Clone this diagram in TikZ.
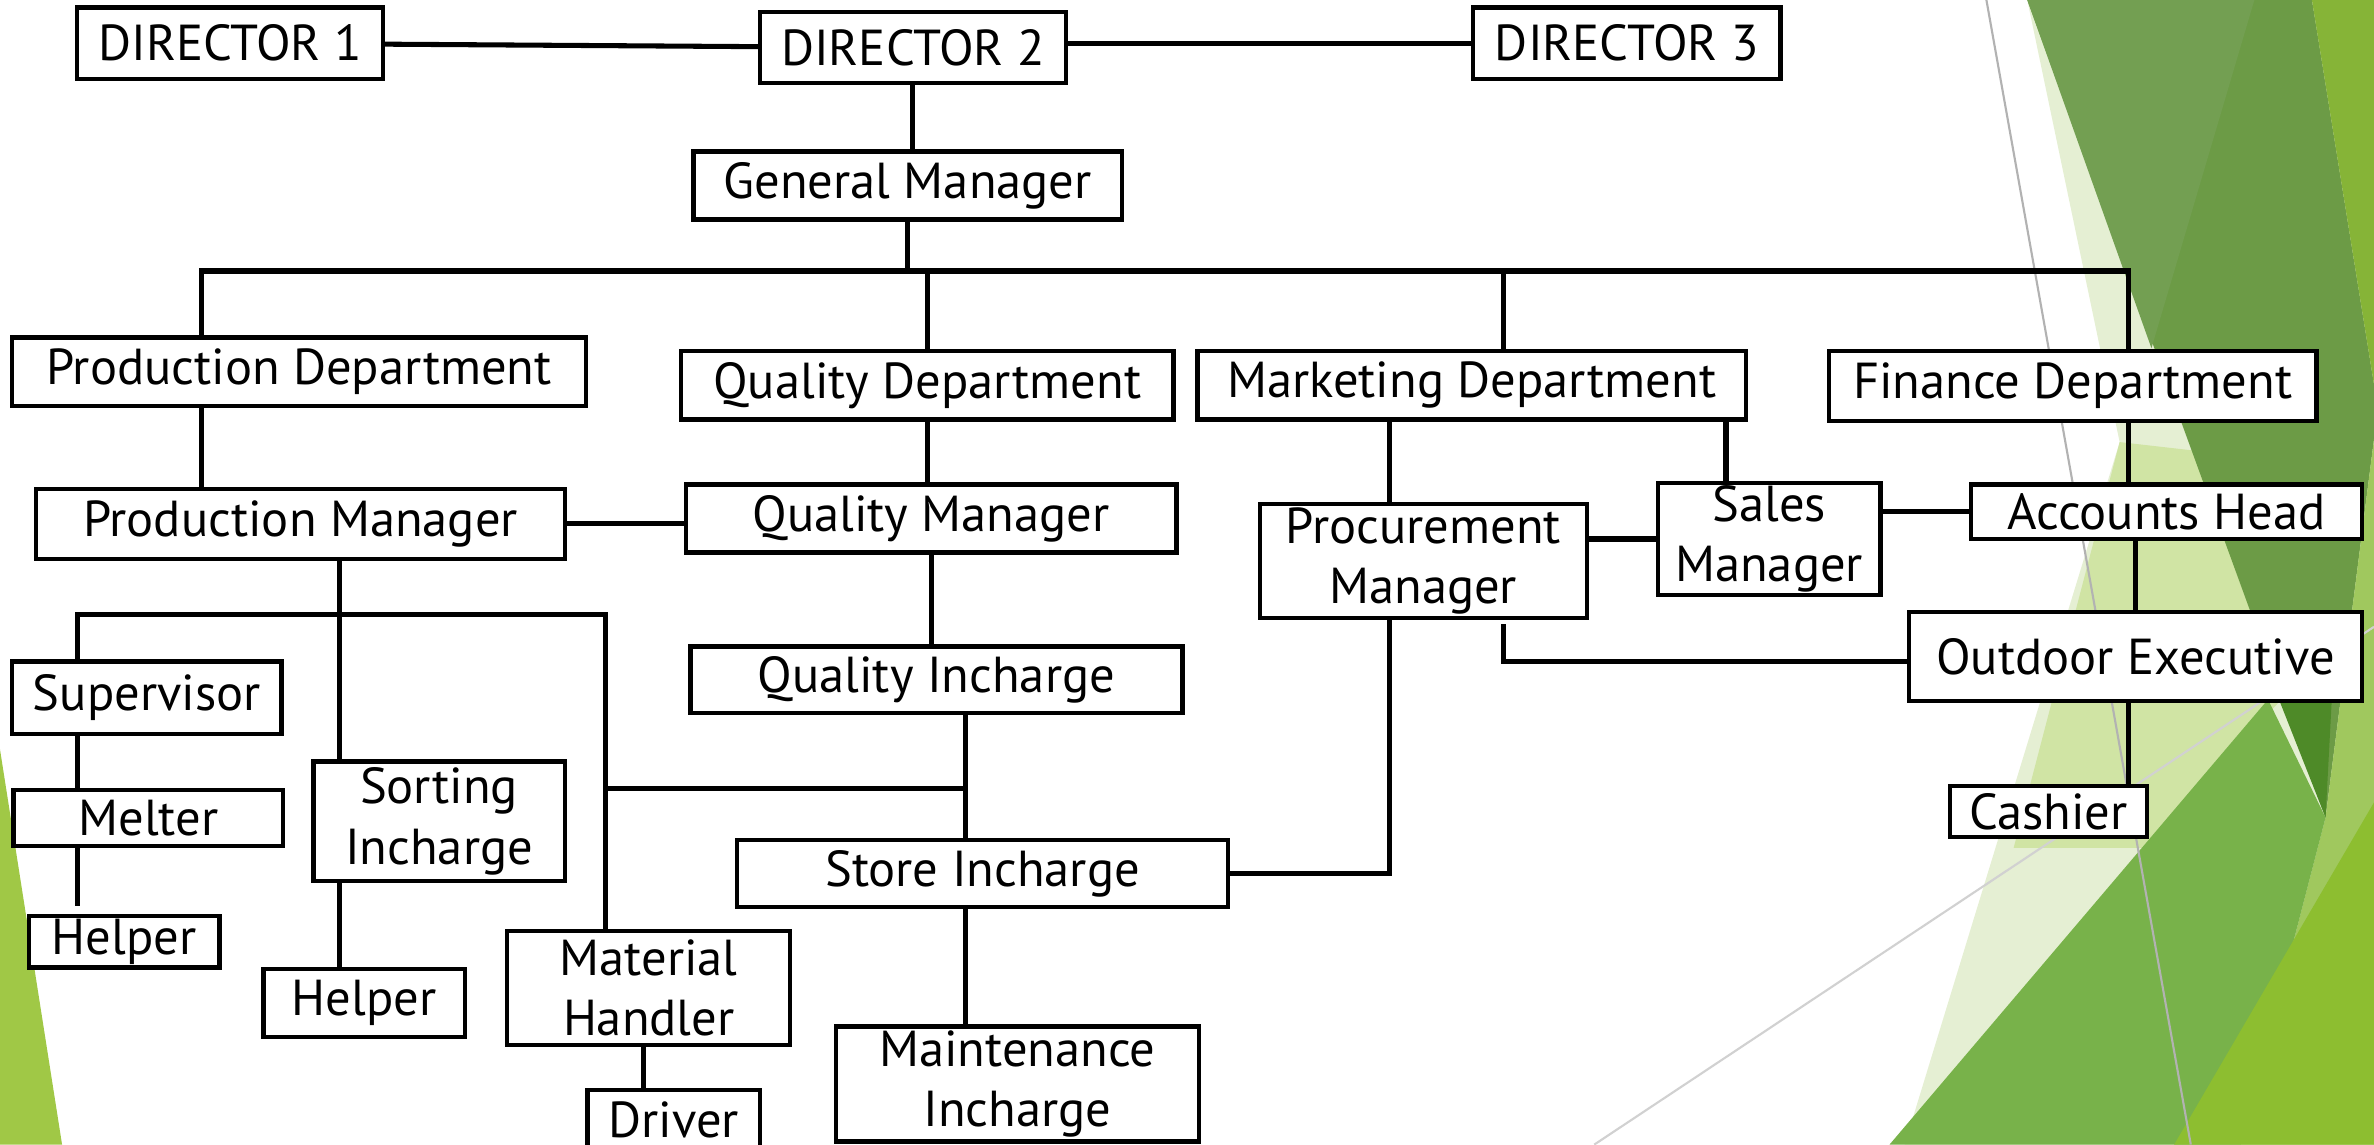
\documentclass[tikz,border=0pt]{standalone}
\usepackage{fontspec}
\setmainfont{PT Sans}
\usetikzlibrary{positioning}

\definecolor{facetPale}{HTML}{E5EFD3}
\definecolor{facetLight}{HTML}{D0E4A4}
\definecolor{facetDark}{HTML}{6C9B46}
\definecolor{facetDarkB}{HTML}{739F52}
\definecolor{facetDeep}{HTML}{4E8A28}
\definecolor{facetMid}{HTML}{78B24A}
\definecolor{facetSoft}{HTML}{A0C85E}
\definecolor{facetLime}{HTML}{8DBE30}
\definecolor{facetBright}{HTML}{86B437}
\definecolor{facetLeft}{HTML}{A0C846}

\begin{document}
\begin{tikzpicture}[x=0.1mm, y=-0.1mm,
    post/.style={rectangle, draw, fill=white, line width=0.8pt, inner sep=0pt, align=center, font=\fontsize{9.5}{11.3}\selectfont},
    wh/.style 2 args={minimum width=#1mm, minimum height=#2mm},
    link/.style={line width=0.95pt}]

    \useasboundingbox (0,0) rectangle (1568,756);

    % background facets
    \fill[facetPale] (1339,0) -- (1400,292) -- (1258,756) -- (1568,756) -- (1568,0) -- cycle;
    \fill[facetLight] (1400,292) -- (1470,300) -- (1505,464) -- (1415,560) -- (1330,560) -- cycle;
    \fill[facetDark] (1339,0) -- (1527,0) -- (1568,254) -- (1568,290) -- (1536,540) -- cycle;
    \fill[facetDarkB] (1339,0) -- (1489,0) -- (1421,230) -- cycle;
    \fill[facetBright] (1527,0) -- (1568,0) -- (1568,254) -- cycle;
    \fill[facetSoft] (1568,290) -- (1536,540) -- (1480,756) -- (1568,756) -- cycle;
    \fill[facetMid] (1498,462) -- (1536,540) -- (1480,756) -- (1248,756) -- cycle;
    \fill[facetDeep] (1506,464) -- (1540,464) -- (1536,540) -- cycle;
    \fill[facetLime] (1568,530) -- (1568,756) -- (1436,756) -- cycle;
    \fill[facetLeft] (0,495) -- (41,756) -- (0,756) -- cycle;
    \draw[black!30, line width=0.4pt] (1312,0) -- (1447,756);
    \draw[black!18, line width=0.4pt] (1053,756) -- (1568,414);

    % boxes
    \node[post, wh={20.2}{4.7}] (dirA) at (152,28.5) {DIRECTOR 1};
    \node[post, wh={20.2}{4.7}] (dirB) at (603,31.5) {DIRECTOR 2};
    \node[post, wh={20.3}{4.7}] (dirC) at (1074.5,28.5) {DIRECTOR 3};
    \node[post, wh={28.3}{4.5}] (gm) at (599.5,122.5) {General Manager};

    \node[post, wh={37.9}{4.5}] (prodDept) at (197.5,245.5) {Production Department};
    \node[post, wh={32.5}{4.5}] (qualDept) at (612.5,254.5) {Quality Department};
    \node[post, wh={36.2}{4.5}] (mktDept) at (972,254.5) {Marketing Department};
    \node[post, wh={32.2}{4.6}] (finDept) at (1369,255) {Finance Department};

    \node[post, wh={34.9}{4.6}] (prodMgr) at (198.5,346) {Production Manager};
    \node[post, wh={32.4}{4.5}] (qualMgr) at (615,342.5) {Quality Manager};
    \node[post, wh={21.6}{7.5}] (procMgr) at (940,370.5) {Procurement\\Manager};
    \node[post, wh={14.7}{7.4}] (salesMgr) at (1168.5,356) {Sales\\Manager};
    \node[post, wh={25.8}{3.6}] (accHead) at (1431,338) {Accounts Head};
    \node[post, wh={29.9}{5.9}] (outExec) at (1410.5,433.5) {Outdoor Executive};
    \node[post, wh={13.0}{3.4}] (cashier) at (1353,536) {Cashier};

    \node[post, wh={32.5}{4.4}] (qualInch) at (618.5,449) {Quality Incharge};
    \node[post, wh={32.4}{4.4}] (storeInch) at (649,577) {Store Incharge};
    \node[post, wh={24.0}{7.6}] (maintInch) at (672,716) {Maintenance\\Incharge};

    \node[post, wh={17.8}{4.8}] (supervisor) at (97,461) {Supervisor};
    \node[post, wh={17.8}{3.7}] (melter) at (98,540.5) {Melter};
    \node[post, wh={12.6}{3.4}] (helperA) at (82,622) {Helper};
    \node[post, wh={16.6}{7.9}] (sortInch) at (290,542.5) {Sorting\\Incharge};
    \node[post, wh={13.3}{4.5}] (helperB) at (240.5,662.5) {Helper};
    \node[post, wh={18.7}{7.5}] (matHand) at (428.5,652.5) {Material\\Handler};
    \node[post, wh={11.4}{4.0}] (driver) at (445,740) {Driver};

    % junctions
    \coordinate (busL) at (133,179);
    \coordinate (busM) at (993,179);
    \coordinate (busR) at (1406,179);
    \coordinate (subL) at (51,406);
    \coordinate (subM) at (224,406);
    \coordinate (subR) at (400,406);
    \coordinate (storeJ) at (638,521);
    \coordinate (procX) at (918,0);
    \coordinate (salesX) at (1140,0);
    \coordinate (mhX) at (425,0);

    % links
    \draw[link] (dirA) -- (dirB);
    \draw[link] (dirC.west) -- (dirC.west -| dirB.east);
    \draw[link] (dirB.south) -- (dirB.south |- gm.north);
    \draw[link] (gm.south) -- (gm.south |- busL);
    \draw[link] (busL |- prodDept.north) -- (busL) -- (busR) -- (busR |- finDept.north);
    \draw[link] (qualDept.north) -- (qualDept.north |- busL);
    \draw[link] (busM) -- (busM |- mktDept.north);

    \draw[link] (busL |- prodDept.south) -- (busL |- prodMgr.north);
    \draw[link] (prodMgr.east) -- (prodMgr.east -| qualMgr.west);
    \draw[link] (qualDept.south) -- (qualDept.south |- qualMgr.north);
    \draw[link] (qualMgr.south) -- (qualMgr.south |- qualInch.north);
    \draw[link] (storeJ |- qualInch.south) -- (storeJ |- storeInch.north);
    \draw[link] (storeJ) -- (storeJ -| subR);
    \draw[link] (storeJ |- storeInch.south) -- (storeJ |- maintInch.north);
    \draw[link] (storeInch.east) -| (procX |- procMgr.south);

    \draw[link] (procX |- mktDept.south) -- (procX |- procMgr.north);
    \draw[link] (salesX |- mktDept.south) -- (salesX |- salesMgr.north);
    \draw[link] (procMgr.east |- salesMgr.west) -- (salesMgr.west);
    \draw[link] (salesMgr.east |- accHead.west) -- (accHead.west);
    \draw[link] (busR |- finDept.south) -- (busR |- accHead.north);
    \draw[link] (outExec.north |- accHead.south) -- (outExec.north);
    \draw[link] (busR |- outExec.south) -- (busR |- cashier.north);
    \draw[link] ([yshift=-0.3mm]busM |- procMgr.south) |- ([yshift=-0.35mm]outExec.west);

    \draw[link] (subM |- prodMgr.south) -- (subM |- sortInch.north);
    \draw[link] (subL |- supervisor.north) -- (subL) -- (subR) -- (subR |- matHand.north);
    \draw[link] (subL |- supervisor.south) -- (subL |- melter.north);
    \draw[link] (subL |- melter.south) -- ([yshift=0.5mm]subL |- helperA.north);
    \draw[link] (subM |- sortInch.south) -- (subM |- helperB.north);
    \draw[link] (mhX |- matHand.south) -- (mhX |- driver.north);

\end{tikzpicture}
\end{document}
